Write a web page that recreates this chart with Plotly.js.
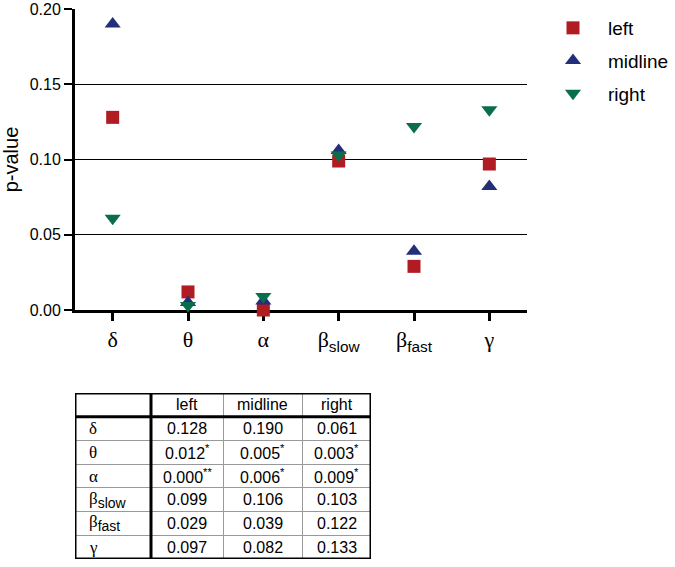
<!DOCTYPE html>
<html>
<head>
<meta charset="utf-8">
<script src="https://cdn.plot.ly/plotly-3.0.1.min.js"></script>
<style>html,body{margin:0;padding:0;background:#fff;}#chart{width:675px;height:567px;}</style>
</head>
<body>
<div id="chart"></div>
<script>
// ---- data ----
const SERIF = 'Liberation Serif, Times New Roman, serif';
const SANS = 'Liberation Sans, Arial, sans-serif';
const subSans = (s, size) => '<sub><span style="font-family:' + SANS + (size ? ';font-size:' + size + 'px' : '') + '">' + s + '</span></sub>';

const bandGreek = ['δ', 'θ', 'α', 'β', 'β', 'γ'];
const bandSub   = ['', '', '', 'slow', 'fast', ''];
const seriesNames = ['left', 'midline', 'right'];
const leftVals    = [0.128, 0.012, 0.000, 0.099, 0.029, 0.097];
const midlineVals = [0.190, 0.005, 0.006, 0.106, 0.039, 0.082];
const rightVals   = [0.061, 0.003, 0.009, 0.103, 0.122, 0.133];
const leftSig     = ['', '*', '**', '', '', ''];
const midlineSig  = ['', '*', '*', '', '', ''];
const rightSig    = ['', '*', '*', '', '', ''];
const yTicks = [0, 0.05, 0.10, 0.15, 0.20];

// ---- style ----
const colors = ['#B01C22', '#232F78', '#0A6E4C'];
const symbols = ['square', 'triangle-up', 'triangle-down'];
const sizes = [13, 14, 14];
const W = 675, H = 567;
const px = x => x / W;
const py = y => 1 - y / H;

const bandNames = bandGreek.map((g, i) => g + (bandSub[i] ? subSans(bandSub[i]) : ''));
const vals = [leftVals, midlineVals, rightVals];
const sigs = [leftSig, midlineSig, rightSig];

const traces = seriesNames.map((n, i) => ({
  type: 'scatter', mode: 'markers', name: n, x: bandNames, y: vals[i],
  legendgroup: n, cliponaxis: false,
  marker: {symbol: symbols[i], size: sizes[i], color: colors[i], line: {width: 0}},
  xaxis: 'x', yaxis: 'y'
}));
// invisible trace to create the table's helper axes
traces.push({type: 'scatter', mode: 'markers', x: [], y: [], xaxis: 'x2', yaxis: 'y2', showlegend: false, hoverinfo: 'skip'});

// ---- table (hidden cartesian axes, pixel-like units) ----
const colEdges = [0, 76, 148, 227, 296];
const nRows = bandGreek.length + 1;
const fmt = (v, s) => v.toFixed(3) + (s ? '<sup>' + s + '</sup>' : '');
const annotations = [];
seriesNames.forEach((n, j) => {
  annotations.push({xref: 'x2', yref: 'y2', x: (colEdges[j + 1] + colEdges[j + 2]) / 2, y: 0.5, text: n,
    showarrow: false, font: {family: SANS, size: 16, color: 'black'}});
});
bandGreek.forEach((g, i) => {
  annotations.push({xref: 'x2', yref: 'y2', x: 12, y: i + 1.5, xanchor: 'left',
    text: g + (bandSub[i] ? subSans(bandSub[i], 14) : ''), showarrow: false,
    font: {family: SERIF, size: 17, color: 'black'}});
  vals.forEach((arr, j) => {
    annotations.push({xref: 'x2', yref: 'y2', x: (colEdges[j + 1] + colEdges[j + 2]) / 2, y: i + 1.5,
      text: fmt(arr[i], sigs[j][i]), showarrow: false, font: {family: SANS, size: 16, color: 'black'}});
  });
});

const thick = {color: 'black', width: 3};
const shapes = [
  {type: 'rect', xref: 'x2', yref: 'y2', x0: colEdges[0], x1: colEdges[4], y0: 0, y1: nRows, line: thick},
  {type: 'line', xref: 'x2', yref: 'y2', x0: colEdges[1], x1: colEdges[1], y0: 0, y1: nRows, line: thick},
  {type: 'line', xref: 'x2', yref: 'y2', x0: colEdges[0], x1: colEdges[4], y0: 1, y1: 1, line: thick}
];

const layout = {
  width: W, height: H,
  margin: {l: 0, r: 0, t: 0, b: 0},
  paper_bgcolor: 'white', plot_bgcolor: 'white',
  showlegend: true,
  xaxis: {
    domain: [px(75), px(527)], type: 'category', range: [-0.5, 5.5],
    showline: true, linewidth: 3, linecolor: 'black',
    ticks: 'outside', ticklen: 8, tickwidth: 3, tickcolor: 'black',
    showgrid: false, zeroline: false, layer: 'below traces',
    tickfont: {family: SERIF, size: 22, color: 'black'}
  },
  yaxis: {
    domain: [py(310), py(9)], range: [0, 0.2],
    tickvals: yTicks, tickformat: '.2f',
    showline: true, linewidth: 3, linecolor: 'black',
    ticks: 'outside', ticklen: 8, tickwidth: 2, tickcolor: 'black',
    showgrid: true, gridcolor: 'black', gridwidth: 1, zeroline: false,
    layer: 'below traces',
    tickfont: {family: SANS, size: 16, color: 'black'},
    title: {text: 'p-value', font: {family: SANS, size: 20, color: 'black'}, standoff: 6}
  },
  xaxis2: {
    domain: [px(75), px(371)], range: [0, colEdges[4]], anchor: 'y2',
    tickvals: colEdges, showticklabels: false, ticks: '',
    showgrid: true, gridcolor: '#999', gridwidth: 1, zeroline: false, showline: false, fixedrange: true
  },
  yaxis2: {
    domain: [py(559), py(393)], range: [nRows, 0], anchor: 'x2',
    tickvals: Array.from({length: nRows + 1}, (_, k) => k), showticklabels: false, ticks: '',
    showgrid: true, gridcolor: '#999', gridwidth: 1, zeroline: false, showline: false, fixedrange: true
  },
  legend: {
    x: px(538), y: py(9), xanchor: 'left', yanchor: 'top',
    itemwidth: 60,
    font: {family: SANS, size: 19, color: 'black'},
    traceorder: 'grouped', tracegroupgap: 5,
    bgcolor: 'rgba(0,0,0,0)'
  },
  annotations: annotations,
  shapes: shapes
};

Plotly.newPlot('chart', traces, layout, {displayModeBar: false, staticPlot: true});
</script>
</body>
</html>
